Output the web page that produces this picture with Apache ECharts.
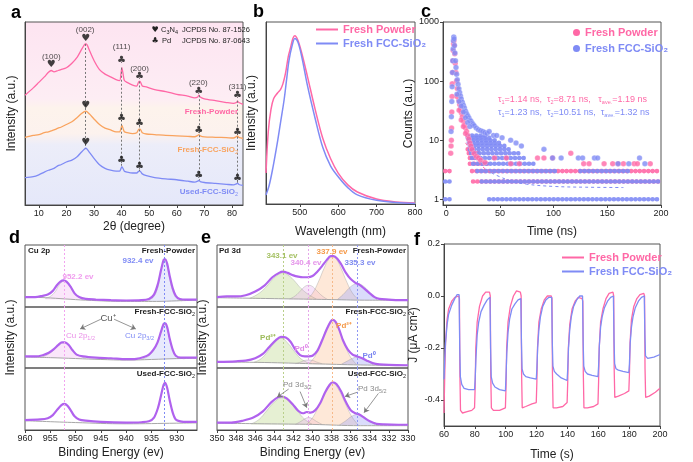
<!DOCTYPE html>
<html>
<head>
<meta charset="utf-8">
<script src="https://cdn.jsdelivr.net/npm/echarts@6/dist/echarts.min.js"></script>
<style>
html,body{margin:0;padding:0;background:#fff;}
#main{width:693px;height:462px;}
</style>
</head>
<body>
<div id="main"></div>
<script>
const FONT = '"Liberation Sans", Arial, sans-serif';
const PINK = '#ff68a6', BLUE = '#7f8bf5', ORANGE = '#f9a35e', PURPLE = '#b062ee';

// ---------- a : XRD ----------
const aTheta       = [5, 8, 10, 12, 13.5, 14.5, 15.5, 17, 18, 20, 22, 24, 25.5, 26.5, 27, 27.5, 28.5, 30, 32, 34, 36, 38, 39.3, 39.8, 40.1, 40.5, 41, 42, 44, 45.5, 46.3, 46.7, 47.5, 49, 52, 56, 60, 64, 66.5, 67.6, 68, 68.5, 70, 74, 78, 80.5, 81.6, 82, 82.5, 84];
const aFreshPowder = [60, 64, 67, 70, 72.5, 73.5, 72.8, 73.5, 74, 75, 77.5, 81, 85, 87.5, 88, 87.5, 84, 79, 74, 71.5, 70, 68.5, 68, 72, 75, 72, 68, 67, 65.5, 65, 67.5, 67.5, 65, 64.5, 63, 62, 60.5, 59.5, 58.5, 59, 60, 59, 58, 57, 56, 55.5, 56, 56.8, 56, 55];
const aFreshFCC    = [37, 38, 38.5, 39.5, 40, 40.5, 41, 42, 42.5, 44, 45.5, 48, 50, 51, 51.3, 51, 49.5, 47, 44, 42, 41, 40, 40, 42, 43.5, 42, 40, 39.5, 39, 39.5, 41.5, 41.5, 39.5, 38.8, 38.5, 38, 37.8, 37.5, 37.3, 38, 38.5, 37.8, 37.2, 37, 36.8, 36.6, 37.3, 37.8, 37, 36.4];
const aUsedFCC     = [15, 15.5, 16.5, 18, 19, 19.5, 20, 21.5, 22, 23.5, 24.5, 26.5, 29, 30.5, 31, 30.5, 28.5, 25.5, 22, 20, 19, 18.5, 18.5, 20, 21, 20, 18.5, 18, 17.5, 17.5, 18.5, 18.5, 17, 16, 15, 14.3, 13.8, 13, 12.5, 13, 13.5, 12.8, 12.3, 11.8, 11.3, 11, 11.5, 12, 11.2, 10.7];
const aMarkers = [
  [14.5, 77, '♥'], [27, 91, '♥'], [40, 79, '♣'], [46.5, 70, '♣'], [68, 62, '♣'], [82, 60, '♣'],
  [27, 54.5, '♥'], [40, 47.5, '♣'], [46.5, 44.5, '♣'], [68, 40.5, '♣'], [82, 39.5, '♣'],
  [27, 34, '♥'], [40, 24.5, '♣'], [46.5, 21, '♣'], [68, 16, '♣'], [82, 14.5, '♣']
];
const aHkl = [[14.5, 81, '(100)'], [26.8, 95.5, '(002)'], [40, 86.5, '(111)'], [46.5, 74.5, '(200)'], [67.8, 67, '(220)'], [82, 64.5, '(311)']];
const aDropLines = [[27, 88, 31], [40, 75, 21], [46.5, 67.5, 18.5], [68, 60, 13.5], [82, 57, 12]];

// ---------- b : PL ----------
const bPowderWave = [412, 418, 425, 432, 442, 450, 456, 463, 470, 476, 482, 487, 495, 505, 520, 540, 560, 580, 600, 625, 650, 700, 750, 800];
const bPowderInt  = [0.17, 0.4, 0.52, 0.58, 0.61, 0.63, 0.66, 0.72, 0.81, 0.86, 0.91, 0.925, 0.9, 0.83, 0.7, 0.52, 0.36, 0.25, 0.17, 0.105, 0.066, 0.027, 0.011, 0.005];
const bFCCWave    = [412, 420, 430, 441, 450, 459, 466, 472, 480, 487, 495, 505, 520, 540, 560, 580, 600, 625, 650, 700, 750, 800];
const bFCCInt     = [0.05, 0.1, 0.2, 0.33, 0.45, 0.57, 0.69, 0.79, 0.87, 0.91, 0.89, 0.81, 0.65, 0.47, 0.31, 0.21, 0.15, 0.09, 0.05, 0.02, 0.008, 0.003];

// ---------- c : TRPL ----------
// rows of repeated counts: [count, tStart, tEnd]
const cPowderRows = [[3, -1, 4], [2, 25, 200], [3, 24, 200], [4, 22, 40], [5, 22, 34], [6, 21, 30], [7, 20, 28]];
const cFCCRows = [[1, -1, 4], [2, -1, 4], [1, 40, 200], [2, 33, 200], [3, 29, 103], [3, 125, 170], [4, 25, 85], [5, 24, 75], [6, 23, 70], [7, 22, 62], [8, 22, 55], [9, 21, 50], [10, 21, 46], [11, 20, 42], [12, 20, 38]];
const cPowderDecay = [[4.2, 6], [4.5, 8], [4.8, 10], [5, 16], [5.2, 30], [5.4, 55], [5.6, 90], [5.9, 140], [6.2, 220], [6.5, 330], [6.8, 430], [7.1, 480], [7.5, 400], [7.9, 290], [8.4, 200], [9, 140], [9.6, 100], [10.3, 75], [11, 58], [11.8, 47], [12.5, 40], [13.3, 34], [14, 29], [15, 25], [16, 21], [17, 18], [18, 16], [19, 14], [20, 12], [21, 10.5], [22, 9], [23, 8], [24, 7], [26, 6], [28, 5.3], [30, 5], [32, 4.6], [36, 4.2], [10, 55], [12, 32], [14, 22], [16, 17], [18, 13],
  [45, 5], [56, 5], [60, 4], [68, 4], [85, 5], [91, 5], [99, 5], [116, 6], [128, 4], [133, 4], [147, 4], [155, 4], [160, 4], [165, 4], [175, 4], [178, 4], [190, 4]];
const cFCCDecay = [[4.5, 14], [4.8, 25], [5.2, 45], [5.5, 80], [5.8, 140], [6.1, 220], [6.4, 350], [6.7, 480], [7, 560], [7.3, 520], [7.7, 400], [8.1, 300], [8.6, 220], [9.1, 170], [9.7, 130], [10.3, 105], [11, 88], [11.8, 74], [12.5, 64], [13.3, 56], [14, 50], [15, 44], [16, 39], [17, 35], [18, 31], [19, 28], [20, 26], [21, 24], [22, 22], [23, 21], [24, 19.5], [25, 18.5], [26, 17.5], [28, 16], [30, 15], [32, 14.5], [34, 14], [36, 13.5], [38, 13], [40, 14], [44, 12], [47, 12], [52, 11], [60, 10], [65, 9], [70, 8],
  [10, 60], [12, 45], [14, 38], [16, 30], [18, 24], [20, 20], [22, 17],
  [91, 7], [99, 5], [107, 5], [123, 5], [127, 5], [138, 5], [141, 5], [160, 4], [170, 4], [180, 5], [185, 4]];
const cPowderFit = [[18, 9], [24, 6], [30, 4.3], [36, 3.3], [42, 2.8]];
const cFCCFit = [[42, 2.8], [50, 2.4], [60, 2.05], [75, 1.8], [100, 1.65], [130, 1.6], [165, 1.58]];

// ---------- d : Cu 2p XPS ----------
const dTopCurve = [[960, .16], [958, .16], [956.5, .18], [955.5, .2], [954.5, .26], [953.7, .35], [953, .41], [952.4, .43], [951.8, .41], [951, .33], [950.2, .22], [949.3, .16], [948, .13], [946, .12], [943, .11], [940, .105], [937, .11], [935.5, .13], [934.5, .2], [933.7, .38], [933.1, .6], [932.6, .76], [932.3, .77], [931.9, .7], [931.4, .5], [930.8, .3], [930.2, .18], [929.4, .13], [928, .12], [926, .12]];
const dTopBase = [[960, .16], [956, .15], [952, .13], [948, .11], [940, .09], [934, .09], [930, .1], [926, .11]];
const dTopCu952 = [[956, .14], [955, .17], [954, .25], [953.2, .36], [952.2, .42], [951.2, .36], [950.4, .25], [949.5, .17], [948.5, .12]];
const dTopCu932 = [[936, .09], [935, .13], [934, .25], [933.3, .5], [932.8, .7], [932.4, .76], [932, .7], [931.5, .5], [930.8, .26], [930, .14], [929, .1]];
const dMidCurve = [[960, .19], [958, .19], [956.5, .21], [955.3, .25], [954.3, .31], [953.4, .38], [952.7, .42], [952.1, .42], [951.4, .38], [950.6, .29], [949.8, .22], [948.5, .19], [946, .17], [943, .16], [940, .145], [938, .15], [936.5, .18], [935.5, .22], [934.6, .3], [933.8, .42], [933.1, .6], [932.6, .72], [932.3, .73], [931.9, .67], [931.4, .48], [930.8, .3], [930.2, .2], [929.2, .17], [928, .17], [926, .17]];
const dMidBase = [[960, .18], [955, .17], [950, .155], [945, .14], [940, .13], [935, .14], [930, .155], [926, .16]];
const dMidCu952 = [[957, .17], [955.5, .22], [954.2, .3], [953.2, .38], [952.2, .42], [951.2, .36], [950.3, .26], [949.2, .2], [948, .16]];
const dMidCu932 = [[937, .14], [935.5, .2], [934.5, .3], [933.6, .46], [932.9, .65], [932.4, .72], [931.9, .65], [931.3, .45], [930.6, .26], [929.8, .18], [928.5, .15]];
const dBotCurve = [[960, .16], [957, .17], [955.5, .19], [954.5, .24], [953.6, .33], [952.8, .4], [952.2, .42], [951.6, .39], [950.9, .31], [950.2, .22], [949.3, .17], [948, .15], [945, .13], [940, .12], [937, .125], [935.5, .14], [934.5, .2], [933.7, .36], [933.1, .56], [932.6, .73], [932.3, .76], [931.9, .68], [931.4, .48], [930.8, .28], [930.2, .17], [929.3, .14], [928, .13], [926, .13]];
const dBotBase = [[960, .15], [950, .12], [940, .1], [930, .11], [926, .115]];
const dPeaks = [952.2, 932.4];

// ---------- e : Pd 3d XPS ----------
const eTopCurve = [[350, .16], [349, .17], [348, .17], [347, .19], [346, .25], [345, .35], [344.2, .48], [343.5, .55], [343.1, .57], [342.6, .55], [342, .51], [341.5, .49], [341, .48], [340.5, .48], [340, .5], [339.5, .57], [339, .66], [338.5, .76], [338.1, .82], [337.8, .82], [337.4, .78], [337, .69], [336.5, .55], [336, .45], [335.5, .39], [335.1, .36], [334.6, .3], [334, .22], [333.5, .16], [333, .13], [332, .12], [331, .11], [330, .11]];
const eTopBase = [[350, .15], [346, .14], [342, .13], [338, .12], [334, .11], [330, .11]];
const eTopPd343 = [[346.6, .14], [345.8, .2], [345, .3], [344.2, .44], [343.6, .52], [343.1, .55], [342.6, .52], [342, .44], [341.2, .3], [340.4, .2], [339.6, .13]];
const eTopPd340 = [[342.4, .13], [341.8, .18], [341.2, .27], [340.8, .33], [340.4, .35], [340, .33], [339.6, .27], [339, .18], [338.4, .12]];
const eTopPd338 = [[340.6, .12], [340, .22], [339.4, .4], [338.8, .62], [338.3, .77], [337.9, .81], [337.5, .77], [337, .62], [336.4, .4], [335.8, .22], [335.2, .12]];
const eTopPd335 = [[337.4, .12], [336.8, .2], [336.2, .3], [335.7, .36], [335.3, .38], [334.9, .36], [334.4, .3], [333.8, .2], [333.2, .11]];
const eMidCurve = [[350, .1], [348, .11], [347, .12], [346, .16], [345.2, .23], [344.5, .35], [343.8, .46], [343.3, .51], [342.8, .5], [342.3, .43], [341.8, .3], [341.3, .21], [340.8, .19], [340.4, .19], [340, .2], [339.5, .28], [339, .45], [338.5, .64], [338.1, .76], [337.9, .79], [337.6, .76], [337.2, .63], [336.8, .45], [336.3, .3], [335.8, .22], [335.3, .19], [334.8, .16], [334.3, .12], [333.7, .08], [333, .06], [332, .05], [330, .045]];
const eMidBase = [[350, .1], [345, .09], [340, .07], [335, .05], [330, .04]];
const eMidPd343 = [[346.2, .09], [345.4, .15], [344.7, .27], [344, .41], [343.3, .49], [342.6, .41], [341.9, .27], [341.2, .15], [340.4, .08]];
const eMidPd340 = [[341.8, .07], [341.2, .1], [340.8, .125], [340.4, .13], [340, .125], [339.6, .1], [339, .07]];
const eMidPd338 = [[340.4, .07], [339.7, .2], [339.1, .42], [338.5, .65], [337.9, .78], [337.3, .65], [336.7, .42], [336.1, .2], [335.4, .06]];
const eMidPd335 = [[337, .06], [336.4, .11], [335.8, .16], [335.3, .18], [334.8, .16], [334.2, .11], [333.6, .05]];
const eBotCurve = [[350, .12], [348.5, .12], [347.3, .15], [346.2, .2], [345.2, .3], [344.3, .45], [343.6, .53], [343.2, .54], [342.7, .51], [342.1, .42], [341.5, .31], [341, .27], [340.6, .29], [340.2, .28], [339.7, .32], [339.2, .43], [338.7, .6], [338.2, .73], [337.9, .77], [337.5, .74], [337, .62], [336.5, .45], [336, .32], [335.5, .27], [335.1, .25], [334.6, .2], [334, .14], [333.3, .1], [332.5, .09], [331, .085], [330, .085]];
const eBotBase = [[350, .11], [345, .1], [340, .09], [335, .07], [330, .07]];
const eBotPd343 = [[346.4, .1], [345.6, .17], [344.8, .31], [344, .45], [343.2, .52], [342.4, .45], [341.6, .31], [340.8, .17], [340, .09]];
const eBotPd340 = [[341.8, .09], [341.2, .14], [340.8, .18], [340.4, .2], [340, .18], [339.6, .14], [339, .09]];
const eBotPd338 = [[340.6, .09], [339.9, .22], [339.2, .44], [338.5, .66], [337.9, .76], [337.3, .66], [336.6, .44], [335.9, .22], [335.2, .08]];
const eBotPd335 = [[337.2, .08], [336.5, .15], [335.9, .22], [335.3, .25], [334.7, .22], [334.1, .15], [333.4, .08]];
const ePeaks = [343.1, 340.4, 337.9, 335.3];

// ---------- f : photocurrent ----------
const fPowder = [[60, -0.45], [60.5, -0.3], [61, -0.18], [62, -0.09], [63, -0.05], [65, -0.02], [67, -0.005], [69.5, 0.0], [70, -0.01], [70.3, -0.3], [70.7, -0.44], [72, -0.45], [75, -0.445], [78, -0.44], [79.8, -0.43],
  [80.2, -0.35], [80.6, -0.2], [81.5, -0.1], [83, -0.04], [85, 0.0], [87, 0.015], [89.5, 0.015], [90, 0.0], [90.3, -0.3], [90.7, -0.43], [92, -0.44], [96, -0.44], [99.8, -0.43],
  [100.2, -0.35], [100.6, -0.2], [101.5, -0.1], [103, -0.04], [105, 0.0], [107, 0.02], [109.5, 0.015], [110, 0.0], [110.3, -0.3], [110.7, -0.43], [113, -0.425], [117, -0.415], [119.8, -0.41],
  [120.2, -0.33], [120.6, -0.2], [121.5, -0.1], [123, -0.05], [125, -0.015], [127, 0.0], [129.5, 0.0], [130, -0.01], [130.3, -0.3], [130.7, -0.43], [133, -0.43], [137, -0.425], [139.8, -0.41],
  [140.2, -0.33], [140.6, -0.2], [141.5, -0.11], [143, -0.05], [145, -0.02], [147, -0.005], [149.5, -0.01], [150, -0.02], [150.3, -0.3], [150.7, -0.43], [153, -0.43], [157, -0.425], [159.8, -0.415],
  [160.2, -0.33], [160.6, -0.2], [161.5, -0.1], [163, -0.05], [165, -0.01], [167, 0.01], [169.5, 0.015], [170, 0.0], [170.3, -0.28], [170.7, -0.39], [173, -0.385], [177, -0.375], [179.8, -0.365],
  [180.2, -0.3], [180.6, -0.18], [181.5, -0.09], [183, -0.04], [185, -0.01], [187, 0.005], [189.5, 0.01], [190, 0.0], [190.3, -0.28], [190.7, -0.39], [193, -0.385], [197, -0.37], [200, -0.355]];
const fFCC = [[60, -0.32], [60.5, -0.24], [61, -0.18], [62, -0.11], [63, -0.07], [65, -0.035], [67, -0.01], [68.5, 0.005], [69.8, 0.005], [70.2, -0.2], [70.6, -0.31], [71.5, -0.34], [73, -0.355], [76, -0.36], [79.8, -0.36],
  [80.2, -0.32], [80.7, -0.24], [81.5, -0.15], [82.5, -0.1], [84, -0.06], [86, -0.035], [88, -0.015], [89.8, -0.005], [90.2, -0.2], [90.6, -0.31], [91.5, -0.335], [93, -0.35], [96, -0.36], [99.8, -0.365],
  [100.2, -0.31], [100.7, -0.22], [101.5, -0.14], [102.5, -0.09], [104, -0.05], [106, -0.03], [108, -0.015], [109.8, -0.01], [110.2, -0.18], [110.6, -0.28], [111.5, -0.3], [113, -0.31], [116, -0.315], [119.8, -0.32],
  [120.2, -0.28], [120.7, -0.2], [121.5, -0.13], [122.5, -0.08], [124, -0.04], [126, -0.015], [128, -0.005], [129.8, -0.005], [130.2, -0.18], [130.6, -0.27], [131.5, -0.29], [133, -0.3], [136, -0.315], [139.8, -0.325],
  [140.2, -0.28], [140.7, -0.2], [141.5, -0.13], [142.5, -0.08], [144, -0.04], [146, -0.015], [148, 0.0], [149.8, 0.0], [150.2, -0.18], [150.6, -0.27], [151.5, -0.29], [153, -0.3], [156, -0.305], [159.8, -0.31],
  [160.2, -0.27], [160.7, -0.19], [161.5, -0.12], [162.5, -0.08], [164, -0.045], [166, -0.02], [168, -0.005], [169.8, 0.0], [170.2, -0.17], [170.6, -0.26], [171.5, -0.28], [173, -0.285], [176, -0.29], [179.8, -0.295],
  [180.2, -0.26], [180.7, -0.18], [181.5, -0.12], [182.5, -0.08], [184, -0.045], [186, -0.02], [188, -0.005], [189.8, 0.0], [190.2, -0.15], [190.6, -0.23], [192, -0.24], [196, -0.235], [200, -0.225]];

// ---------------------------------------------------------------
const chart = echarts.init(document.getElementById('main'), null, {renderer: 'canvas'});
const zip = (xs, ys) => xs.map((x, i) => [x, ys[i]]);

const gridBox = {show: true, borderColor: '#555', borderWidth: 1, backgroundColor: 'transparent'};
const grids = [
  {left: 25, top: 22, width: 218, height: 183,
    backgroundColor: {type: 'linear', x: 0, y: 0, x2: 0, y2: 1, colorStops: [
      {offset: 0, color: '#fde4f1'}, {offset: 0.42, color: '#fdedf4'}, {offset: 0.47, color: '#fdf3ec'},
      {offset: 0.61, color: '#fcf2ee'}, {offset: 0.67, color: '#ecedf9'}, {offset: 1, color: '#e5e8fa'}]}},
  {left: 266, top: 22, width: 149, height: 182},
  {left: 443, top: 22, width: 218, height: 183},
  {left: 25, top: 245, width: 172, height: 62},
  {left: 25, top: 307, width: 172, height: 61},
  {left: 25, top: 368, width: 172, height: 62},
  {left: 217, top: 245, width: 191, height: 62},
  {left: 217, top: 307, width: 191, height: 61},
  {left: 217, top: 368, width: 191, height: 62},
  {left: 444, top: 244, width: 216, height: 185}
].map(g => Object.assign({}, gridBox, g));

const axisBase = (gi) => ({
  gridIndex: gi, type: 'value',
  axisLine: {show: true, onZero: false, lineStyle: {color: '#444', width: 1}},
  axisTick: {show: true, length: 3, lineStyle: {color: '#444'}},
  axisLabel: {fontSize: 9, color: '#222', margin: 4, fontFamily: FONT},
  splitLine: {show: false},
  nameLocation: 'middle',
  nameTextStyle: {fontSize: 12, color: '#222', fontFamily: FONT}
});
const ax = (gi, o) => {
  const b = axisBase(gi);
  Object.keys(o).forEach(k => {
    if (b[k] && typeof b[k] === 'object' && typeof o[k] === 'object' && !Array.isArray(o[k])) b[k] = Object.assign({}, b[k], o[k]);
    else b[k] = o[k];
  });
  return b;
};
const hidden = (gi, o) => Object.assign({gridIndex: gi, type: 'value', show: false, splitLine: {show: false}}, o);

const aTicks = [10, 20, 30, 40, 50, 60, 70, 80];
const bTicks = [500, 600, 700, 800];
const cTicks = [0, 50, 100, 150, 200];
const dTicks = [930, 935, 940, 945, 950, 955, 960];
const fTicksY = [-0.4, -0.2, 0, 0.2];

const xAxis = [
  ax(0, {min: 5, max: 84, name: '2θ (degree)', nameGap: 16, axisLabel: {customValues: aTicks}, axisTick: {customValues: aTicks}}),
  ax(1, {min: 412, max: 800, name: 'Wavelength (nm)', nameGap: 22, axisLabel: {customValues: bTicks}, axisTick: {customValues: bTicks}}),
  ax(2, {min: -3, max: 200, name: 'Time (ns)', nameGap: 21, axisLabel: {customValues: cTicks}, axisTick: {customValues: cTicks}}),
  hidden(3, {min: 926, max: 960, inverse: true}),
  hidden(4, {min: 926, max: 960, inverse: true}),
  ax(5, {min: 926, max: 960, inverse: true, name: 'Binding Energy (ev)', nameGap: 17, axisLabel: {customValues: dTicks}, axisTick: {customValues: dTicks}}),
  hidden(6, {min: 330, max: 350, inverse: true}),
  hidden(7, {min: 330, max: 350, inverse: true}),
  ax(8, {min: 330, max: 350, interval: 2, inverse: true, name: 'Binding Energy (ev)', nameGap: 17}),
  ax(9, {min: 60, max: 200, interval: 20, name: 'Time (s)', nameGap: 23})
];
const yAxis = [
  ax(0, {min: 0, max: 100, name: 'Intensity (a.u.)', nameGap: 7, axisLabel: {show: false}, axisTick: {show: false}}),
  ax(1, {min: 0, max: 1, name: 'Intensity (a.u.)', nameGap: 8, axisLabel: {show: false}, axisTick: {show: false}}),
  ax(2, {type: 'log', logBase: 10, min: 0.8, max: 1000, name: 'Counts (a.u.)', nameGap: 19,
    axisLabel: {showMinLabel: false, formatter: v => String(Math.round(v))}}),
  hidden(3, {min: 0, max: 1}),
  ax(4, {min: 0, max: 1, name: 'Intensity (a.u.)', nameGap: 8, axisLine: {show: false}, axisLabel: {show: false}, axisTick: {show: false}}),
  hidden(5, {min: 0, max: 1}),
  hidden(6, {min: 0, max: 1}),
  ax(7, {min: 0, max: 1, name: 'Intensity (a.u.)', nameGap: 8, axisLine: {show: false}, axisLabel: {show: false}, axisTick: {show: false}}),
  hidden(8, {min: 0, max: 1}),
  ax(9, {min: -0.5, max: 0.2, name: 'J (μA cm²)', nameGap: 24,
    axisLabel: {customValues: fTicksY, formatter: v => (Math.abs(v) < 1e-9 ? 0 : v).toFixed(1)}, axisTick: {customValues: fTicksY}})
];

const line = (name, gi, data, color, extra) => Object.assign({
  type: 'line', name, xAxisIndex: gi, yAxisIndex: gi, data, symbol: 'none', smooth: 0.25,
  lineStyle: {color, width: 1.3}, itemStyle: {color}, silent: true, z: 3
}, extra || {});

const series = [];

// a
series.push(line('aPowder', 0, zip(aTheta, aFreshPowder), PINK, {
  markLine: {silent: true, symbol: 'none', label: {show: false}, lineStyle: {color: '#777', type: [2, 2], width: 1},
    data: aDropLines.map(d => [{coord: [d[0], d[1]]}, {coord: [d[0], d[2]]}])}
}));
series.push(line('aFresh', 0, zip(aTheta, aFreshFCC), ORANGE));
series.push(line('aUsed', 0, zip(aTheta, aUsedFCC), BLUE));
series.push({type: 'scatter', name: 'aMark', xAxisIndex: 0, yAxisIndex: 0, symbolSize: 0, silent: true, z: 5,
  data: aMarkers, label: {show: true, position: 'inside', formatter: p => p.value[2], fontSize: 10, color: '#111', fontFamily: 'DejaVu Sans'}});
series.push({type: 'scatter', name: 'aHkl', xAxisIndex: 0, yAxisIndex: 0, symbolSize: 0, silent: true, z: 5,
  data: aHkl, label: {show: true, position: 'inside', formatter: p => p.value[2], fontSize: 8, color: '#222', fontFamily: FONT}});

// b
series.push(line('Fresh Powder', 1, zip(bPowderWave, bPowderInt), PINK, {smooth: 0.35, lineStyle: {color: PINK, width: 1.5}}));
series.push(line('Fresh FCC-SiO₂', 1, zip(bFCCWave, bFCCInt), BLUE, {smooth: 0.35, lineStyle: {color: BLUE, width: 1.5}}));

// c
const rowSeries = (rows, color, nm) => rows.map(r => ({
  type: 'line', name: nm, xAxisIndex: 2, yAxisIndex: 2, symbol: 'none', silent: true, z: 2,
  data: [[r[1], r[0]], [r[2], r[0]]],
  lineStyle: {color, width: 4.6, type: [0.1, 4.2], cap: 'round', opacity: 0.9}
}));
rowSeries(cPowderRows, PINK, 'cRowP').forEach(s => series.push(s));
rowSeries(cFCCRows, BLUE, 'cRowB').forEach(s => series.push(s));
series.push(line('cFitP', 2, cPowderFit, PINK, {smooth: 0.4, lineStyle: {color: PINK, width: 1, type: [3, 3]}, z: 4}));
series.push(line('cFitB', 2, cFCCFit, BLUE, {smooth: 0.4, lineStyle: {color: BLUE, width: 1, type: [3, 3]}, z: 4}));
series.push({type: 'scatter', name: 'Fresh Powder', xAxisIndex: 2, yAxisIndex: 2, data: cPowderDecay, symbolSize: 5.5, silent: true, z: 5,
  itemStyle: {color: PINK, borderColor: 'rgba(255,255,255,0.5)', borderWidth: 0.5}});
series.push({type: 'scatter', name: 'Fresh FCC-SiO₂', xAxisIndex: 2, yAxisIndex: 2, data: cFCCDecay, symbolSize: 5.5, silent: true, z: 6,
  itemStyle: {color: BLUE, borderColor: 'rgba(255,255,255,0.5)', borderWidth: 0.5}});

// XPS helpers
const fill = (gi, data, color) => ({
  type: 'line', name: 'fill', xAxisIndex: gi, yAxisIndex: gi, data, symbol: 'none', smooth: 0.45, silent: true, z: 2,
  lineStyle: {color: 'rgba(140,140,140,0.55)', width: 0.6},
  areaStyle: {color, origin: Math.min(data[0][1], data[data.length - 1][1])}
});
const base = (gi, data) => line('base', gi, data, '#aaa', {smooth: 0.4, lineStyle: {color: '#a8a8a8', width: 1}, z: 3});
const main = (gi, data, marks) => line('xps', gi, data, PURPLE, {smooth: 0.3, lineStyle: {color: PURPLE, width: 2.2}, z: 4,
  markLine: {silent: true, symbol: 'none', label: {show: false}, data: marks}});
const vmark = (x, color) => ({xAxis: x, lineStyle: {color, type: [2, 2], width: 1}});

const dMarks = [vmark(dPeaks[0], '#f2a4f0'), vmark(dPeaks[1], '#7f8bf5')];
const D_PINK = 'rgba(242,190,242,0.55)', D_BLUE = 'rgba(200,205,248,0.6)';
series.push(fill(3, dTopCu952, D_PINK), fill(3, dTopCu932, D_BLUE), base(3, dTopBase), main(3, dTopCurve, dMarks));
series.push(fill(4, dMidCu952, D_PINK), fill(4, dMidCu932, D_BLUE), base(4, dMidBase), main(4, dMidCurve, dMarks));
series.push(base(5, dBotBase), main(5, dBotCurve, dMarks));

const E_G = 'rgba(196,220,150,0.6)', E_P = 'rgba(236,188,240,0.6)', E_O = 'rgba(252,204,170,0.65)', E_B = 'rgba(166,172,245,0.6)';
const eMarks = [vmark(ePeaks[0], '#b9cf8a'), vmark(ePeaks[1], '#e6a6ea'), vmark(ePeaks[2], '#f6b98a'), vmark(ePeaks[3], '#8d96f2')];
series.push(fill(6, eTopPd343, E_G), fill(6, eTopPd340, E_P), fill(6, eTopPd338, E_O), fill(6, eTopPd335, E_B), base(6, eTopBase), main(6, eTopCurve, eMarks));
series.push(fill(7, eMidPd343, E_G), fill(7, eMidPd340, E_P), fill(7, eMidPd338, E_O), fill(7, eMidPd335, E_B), base(7, eMidBase), main(7, eMidCurve, eMarks));
series.push(fill(8, eBotPd343, E_G), fill(8, eBotPd340, E_P), fill(8, eBotPd338, E_O), fill(8, eBotPd335, E_B), base(8, eBotBase), main(8, eBotCurve, eMarks));

// annotation arrows (data coords)
const arrow = (gi, pairs) => ({
  type: 'line', name: 'arrow', xAxisIndex: gi, yAxisIndex: gi, data: [], silent: true, z: 6,
  markLine: {silent: true, symbol: ['none', 'arrow'], symbolSize: 5, label: {show: false},
    lineStyle: {color: '#7a7a7a', width: 0.8, type: 'solid'},
    data: pairs.map(p => [{coord: p[0]}, {coord: p[1]}])}
});
series.push(arrow(4, [[[945, 0.8], [949.1, 0.64]], [[942.4, 0.8], [938.1, 0.64]]]));
series.push(arrow(8, [[[342.5, 0.66], [343.7, 0.53]], [[341.3, 0.62], [340.6, 0.36]], [[335.3, 0.61], [336.6, 0.54]], [[333.1, 0.59], [334.6, 0.28]]]));

// f
series.push(line('Fresh Powder', 9, fPowder, PINK, {smooth: false, lineStyle: {color: PINK, width: 1.3}}));
series.push(line('Fresh FCC-SiO₂', 9, fFCC, BLUE, {smooth: false, lineStyle: {color: BLUE, width: 1.3}}));

// legends
const legItems = [{name: 'Fresh Powder', textStyle: {color: PINK}}, {name: 'Fresh FCC-SiO₂', textStyle: {color: BLUE}}];
const legBase = {orient: 'vertical', selectedMode: false, itemGap: 3, padding: 0,
  textStyle: {fontSize: 11, fontWeight: 'bold', fontFamily: FONT}};
const legend = [
  Object.assign({}, legBase, {left: 316, top: 24, icon: 'rect', itemWidth: 22, itemHeight: 2, data: legItems}),
  Object.assign({}, legBase, {left: 573, top: 27, icon: 'circle', itemWidth: 7, itemHeight: 7, itemGap: 5, data: legItems}),
  Object.assign({}, legBase, {left: 562, top: 252, icon: 'rect', itemWidth: 22, itemHeight: 2, data: legItems})
];

// texts
const T = (x, y, text, o) => ({type: 'text', x, y, silent: true, z: 100,
  style: Object.assign({text, fontSize: 8, fontFamily: FONT, fill: '#222', align: 'left', verticalAlign: 'middle'}, o || {})});
const SUB = {s: {fontSize: 5.5, lineHeight: 6, verticalAlign: 'bottom'}};
const bold = {fontWeight: 'bold'};
const graphic = [
  T(11, 13, 'a', {fontSize: 18, fontWeight: 'bold', fill: '#000'}),
  T(253, 12, 'b', {fontSize: 18, fontWeight: 'bold', fill: '#000'}),
  T(421, 12, 'c', {fontSize: 18, fontWeight: 'bold', fill: '#000'}),
  T(9, 238, 'd', {fontSize: 18, fontWeight: 'bold', fill: '#000'}),
  T(201, 238, 'e', {fontSize: 18, fontWeight: 'bold', fill: '#000'}),
  T(414, 240, 'f', {fontSize: 18, fontWeight: 'bold', fill: '#000'}),
  // a
  T(155, 30, '♥', {fontFamily: 'DejaVu Sans', fontSize: 8, align: 'center'}),
  T(161, 30, 'C{s|3}N{s|4}', {fontSize: 7.5, lineHeight: 10, rich: SUB}),
  T(182, 30, 'JCPDS No. 87-1526', {fontSize: 7.5}),
  T(155, 41, '♣', {fontFamily: 'DejaVu Sans', fontSize: 8, align: 'center'}),
  T(162, 41, 'Pd', {fontSize: 7.5}),
  T(182, 41, 'JCPDS No. 87-0643', {fontSize: 7.5}),
  T(238, 112, 'Fresh-Powder', Object.assign({fill: PINK, align: 'right'}, bold)),
  T(238, 150, 'Fresh-FCC-SiO{s|2}', Object.assign({fill: ORANGE, align: 'right', lineHeight: 10, rich: SUB}, bold)),
  T(238, 192, 'Used-FCC-SiO{s|2}', Object.assign({fill: BLUE, align: 'right', lineHeight: 10, rich: SUB}, bold)),
  // c
  T(498, 100, 'τ{s|1}=1.14 ns,  τ{s|2}=8.71 ns,   τ{s|ave.}=1.19 ns', {fill: PINK, fontSize: 9, lineHeight: 11, rich: SUB}),
  T(498, 113, 'τ{s|1}=1.23 ns,  τ{s|2}=10.51 ns,  τ{s|ave.}=1.32 ns', {fill: BLUE, fontSize: 9, lineHeight: 11, rich: SUB}),
  // d
  T(28, 251, 'Cu 2p', bold),
  T(195, 251, 'Fresh-Powder', Object.assign({align: 'right'}, bold)),
  T(195, 312, 'Fresh-FCC-SiO{s|2}', Object.assign({align: 'right', lineHeight: 10, rich: SUB}, bold)),
  T(195, 374, 'Used-FCC-SiO{s|2}', Object.assign({align: 'right', lineHeight: 10, rich: SUB}, bold)),
  T(138, 261, '932.4 ev', Object.assign({fill: BLUE, align: 'center'}, bold)),
  T(78, 277, '952.2 ev', Object.assign({fill: '#f09cee', align: 'center'}, bold)),
  T(108, 318, 'Cu⁺', {fill: '#555', fontSize: 9.5, align: 'center'}),
  T(66, 336, 'Cu 2p{s|1/2}', {fill: '#ea8fe8', lineHeight: 10, rich: SUB}),
  T(125, 336, 'Cu 2p{s|3/2}', {fill: BLUE, lineHeight: 10, rich: SUB}),
  // e
  T(219, 251, 'Pd 3d', bold),
  T(406, 251, 'Fresh-Powder', Object.assign({align: 'right'}, bold)),
  T(406, 312, 'Fresh-FCC-SiO{s|2}', Object.assign({align: 'right', lineHeight: 10, rich: SUB}, bold)),
  T(406, 374, 'Used-FCC-SiO{s|2}', Object.assign({align: 'right', lineHeight: 10, rich: SUB}, bold)),
  T(282, 256, '343.1 ev', Object.assign({fill: '#a5c164', align: 'center'}, bold)),
  T(306, 263, '340.4 ev', Object.assign({fill: '#e596ea', align: 'center'}, bold)),
  T(332, 252, '337.9 ev', Object.assign({fill: '#f59a4a', align: 'center'}, bold)),
  T(360, 263, '335.3 ev', Object.assign({fill: '#7f8bf0', align: 'center'}, bold)),
  T(268, 338, 'Pd²⁺', Object.assign({fill: '#9dbb5a', align: 'center'}, bold)),
  T(301, 349, 'Pd⁰', Object.assign({fill: '#e08ae8', align: 'center'}, bold)),
  T(344, 326, 'Pd²⁺', Object.assign({fill: '#f59a4a', align: 'center'}, bold)),
  T(369, 356, 'Pd⁰', Object.assign({fill: '#7b86f0', align: 'center'}, bold)),
  T(283, 385, 'Pd 3d{s|3/2}', {fill: '#8a8a8a', lineHeight: 10, rich: SUB}),
  T(358, 389, 'Pd 3d{s|5/2}', {fill: '#8a8a8a', lineHeight: 10, rich: SUB})
];

chart.setOption({
  animation: false,
  backgroundColor: '#fff',
  textStyle: {fontFamily: FONT},
  grid: grids,
  xAxis,
  yAxis,
  legend,
  series,
  graphic
});
</script>
</body>
</html>
